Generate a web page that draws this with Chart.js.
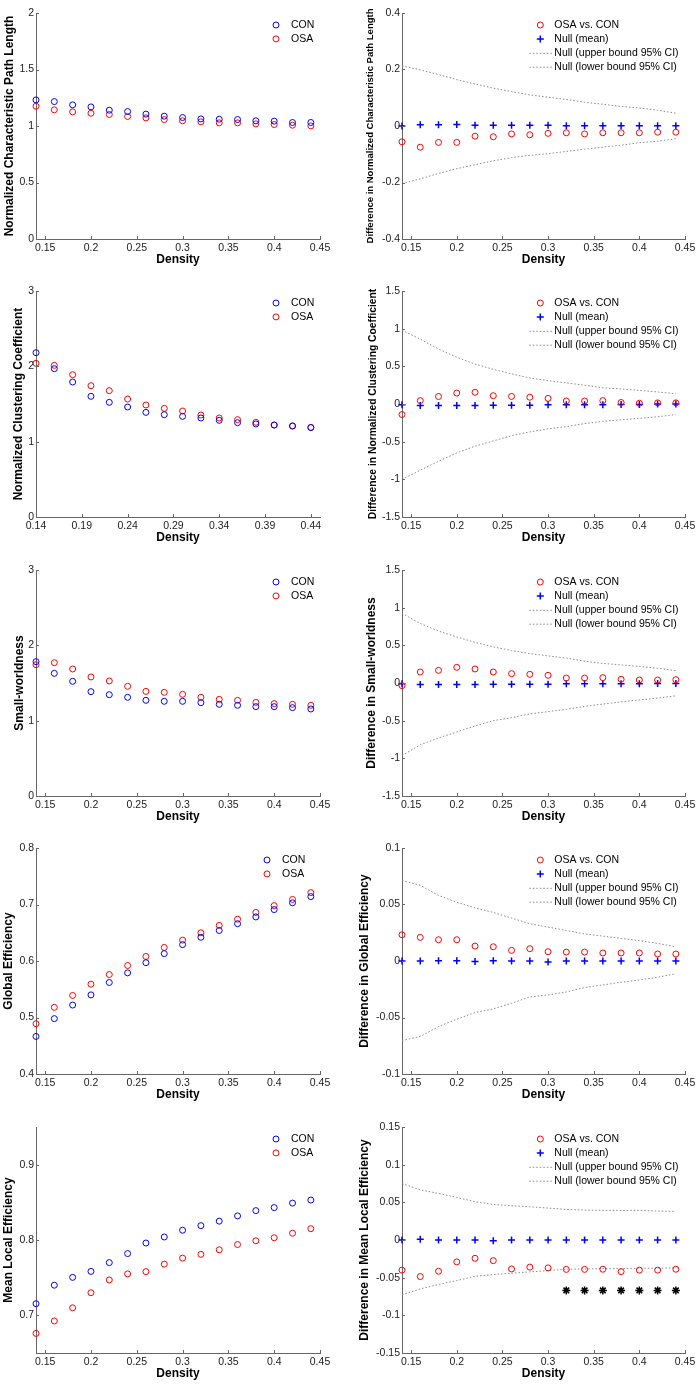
<!DOCTYPE html>
<html>
<head>
<meta charset="utf-8">
<script src="https://cdn.jsdelivr.net/npm/chart.js@4.4.0/dist/chart.umd.min.js"></script>
<style>
  html, body { margin: 0; padding: 0; background: #fff; }
  #wrap { position: relative; width: 700px; height: 1386px; overflow: hidden; }
  canvas { position: absolute; }
</style>
</head>
<body>
<div id="wrap"></div>
<script>
// ---- data ----
const density = [0.14, 0.16, 0.18, 0.20, 0.22, 0.24, 0.26, 0.28, 0.30, 0.32, 0.34, 0.36, 0.38, 0.40, 0.42, 0.44];
const xTicks = [0.15, 0.2, 0.25, 0.3, 0.35, 0.4, 0.45];
const xTicksCp = [0.14, 0.19, 0.24, 0.29, 0.34, 0.39, 0.44];

// normalized characteristic path length
const lpTicks = [0, 0.5, 1, 1.5, 2];
const lpDiffTicks = [-0.4, -0.2, 0, 0.2, 0.4];
const lpCon = [1.231, 1.216, 1.187, 1.169, 1.140, 1.128, 1.105, 1.087, 1.075, 1.063, 1.060, 1.057, 1.046, 1.043, 1.031, 1.031];
const lpOsa = [1.175, 1.143, 1.125, 1.113, 1.102, 1.084, 1.072, 1.057, 1.046, 1.037, 1.028, 1.028, 1.019, 1.013, 1.007, 1.001];
const lpDiff = [-0.056, -0.075, -0.058, -0.058, -0.036, -0.038, -0.028, -0.031, -0.026, -0.024, -0.028, -0.024, -0.024, -0.024, -0.022, -0.022];
const lpNull = [0, 0.004, 0.004, 0.005, 0.003, 0.003, 0.003, 0.003, 0.003, 0.001, 0.001, 0.001, 0.001, 0.001, 0.001, 0.001];
const lpUpper = [0.213, 0.199, 0.182, 0.164, 0.149, 0.134, 0.122, 0.110, 0.102, 0.094, 0.084, 0.077, 0.069, 0.064, 0.056, 0.045];
const lpLower = [-0.204, -0.187, -0.168, -0.151, -0.137, -0.123, -0.112, -0.104, -0.098, -0.090, -0.082, -0.075, -0.068, -0.059, -0.054, -0.045];

// normalized clustering coefficient
const cpTicks = [0, 1, 2, 3];
const cpDiffTicks = [-1.5, -1, -0.5, 0, 0.5, 1, 1.5];
const cpCon = [2.181, 1.969, 1.792, 1.602, 1.522, 1.460, 1.389, 1.358, 1.336, 1.314, 1.283, 1.252, 1.235, 1.221, 1.208, 1.186];
const cpOsa = [2.040, 2.013, 1.889, 1.743, 1.677, 1.566, 1.487, 1.442, 1.407, 1.354, 1.314, 1.292, 1.257, 1.221, 1.208, 1.190];
const cpDiff = [-0.14, 0.045, 0.10, 0.145, 0.155, 0.11, 0.10, 0.09, 0.075, 0.04, 0.04, 0.045, 0.02, 0.01, 0.015, 0.015];
const cpNull = [-0.01, -0.02, -0.02, -0.02, -0.02, -0.015, -0.015, -0.015, -0.01, -0.01, -0.01, -0.01, -0.005, -0.005, 0, 0];
const cpUpper = [0.98, 0.86, 0.73, 0.62, 0.53, 0.46, 0.40, 0.345, 0.31, 0.28, 0.25, 0.215, 0.20, 0.18, 0.16, 0.135];
const cpLower = [-1.0, -0.88, -0.76, -0.65, -0.56, -0.49, -0.42, -0.37, -0.33, -0.30, -0.26, -0.23, -0.21, -0.19, -0.17, -0.14];

// small-worldness
const swTicks = [0, 1, 2, 3];
const swDiffTicks = [-1.5, -1, -0.5, 0, 0.5, 1, 1.5];
const swCon = [1.783, 1.628, 1.522, 1.385, 1.345, 1.310, 1.270, 1.257, 1.257, 1.239, 1.217, 1.204, 1.186, 1.186, 1.173, 1.155];
const swOsa = [1.743, 1.770, 1.686, 1.580, 1.527, 1.456, 1.389, 1.376, 1.350, 1.310, 1.283, 1.270, 1.243, 1.226, 1.217, 1.204];
const swDiff = [-0.035, 0.146, 0.168, 0.208, 0.186, 0.146, 0.124, 0.115, 0.102, 0.066, 0.066, 0.071, 0.049, 0.04, 0.04, 0.044];
const swNull = [-0.01, -0.02, -0.02, -0.02, -0.02, -0.015, -0.015, -0.015, -0.015, -0.01, -0.01, -0.01, -0.01, -0.01, -0.005, -0.005];
const swUpper = [0.925, 0.79, 0.69, 0.61, 0.54, 0.48, 0.43, 0.39, 0.36, 0.33, 0.29, 0.26, 0.24, 0.22, 0.195, 0.165];
const swLower = [-0.965, -0.82, -0.73, -0.65, -0.57, -0.50, -0.46, -0.41, -0.38, -0.35, -0.31, -0.28, -0.25, -0.225, -0.20, -0.17];

// global efficiency
const geTicks = [0.4, 0.5, 0.6, 0.7, 0.8];
const geDiffTicks = [-0.1, -0.05, 0, 0.05, 0.1];
const geCon = [0.4665, 0.498, 0.522, 0.540, 0.562, 0.579, 0.597, 0.613, 0.629, 0.642, 0.654, 0.666, 0.678, 0.691, 0.703, 0.714];
const geOsa = [0.489, 0.518, 0.539, 0.559, 0.576, 0.592, 0.608, 0.624, 0.637, 0.650, 0.663, 0.674, 0.686, 0.698, 0.709, 0.721];
const geDiff = [0.0232, 0.0209, 0.0188, 0.0188, 0.0132, 0.0126, 0.0094, 0.0109, 0.0082, 0.0079, 0.0079, 0.0071, 0.0071, 0.0071, 0.0062, 0.0062];
const geNull = [0, 0, 0.0003, 0.0003, -0.0005, 0.0003, 0, 0, -0.0008, 0, 0, 0, 0, 0, 0, 0];
const geUpper = [0.0712, 0.067, 0.058, 0.052, 0.047, 0.043, 0.038, 0.033, 0.030, 0.027, 0.024, 0.022, 0.020, 0.018, 0.0156, 0.0126];
const geLower = [-0.0703, -0.0668, -0.058, -0.0515, -0.0456, -0.0424, -0.0374, -0.0318, -0.030, -0.0274, -0.0235, -0.0212, -0.0188, -0.0168, -0.0144, -0.0112];

// mean local efficiency
const leTicks = [0.7, 0.8, 0.9];
const leDiffTicks = [-0.15, -0.1, -0.05, 0, 0.05, 0.1, 0.15];
const leCon = [0.7154, 0.740, 0.7504, 0.7583, 0.770, 0.782, 0.796, 0.804, 0.813, 0.819, 0.825, 0.832, 0.839, 0.843, 0.849, 0.853];
const leOsa = [0.676, 0.6925, 0.710, 0.730, 0.747, 0.755, 0.758, 0.768, 0.776, 0.781, 0.787, 0.794, 0.799, 0.803, 0.809, 0.815];
const leDiff = [-0.040, -0.0485, -0.0415, -0.029, -0.0243, -0.0274, -0.0384, -0.036, -0.037, -0.039, -0.039, -0.0388, -0.042, -0.040, -0.040, -0.0388];
const leNull = [0, 0.001, 0, 0, 0, -0.001, 0, 0, 0, 0, 0, 0, 0, 0, 0, 0];
const leUpper = [0.075, 0.0666, 0.0618, 0.0565, 0.0508, 0.0472, 0.0455, 0.0441, 0.0424, 0.0406, 0.0397, 0.0393, 0.0393, 0.0393, 0.0384, 0.038];
const leLower = [-0.0728, -0.0649, -0.0591, -0.0538, -0.0481, -0.0459, -0.0441, -0.0424, -0.0406, -0.0388, -0.0384, -0.038, -0.038, -0.0375, -0.0375, -0.037];
const sigDensity = [0.32, 0.34, 0.36, 0.38, 0.40, 0.42, 0.44];
const sigMark = [-0.067, -0.067, -0.067, -0.067, -0.067, -0.067, -0.067];

// ---- look ----
const FONT = '"Liberation Sans", Arial, sans-serif';
const BLUE = '#0000ff', RED = '#ff0000', CI = '#8a8a8a', AXIS = '#666';
Chart.defaults.font.family = FONT;

const rowTop = [12.5, 291, 569.5, 848, 1126.5];

const panels = [
  { row: 0, side: 'L', title: 'Normalized Characteristic Path Length', min: 0, max: 2, yTicks: lpTicks, groups: [lpCon, lpOsa], tcx: 10 },
  { row: 0, side: 'R', title: 'Difference in Normalized Characteristic Path Length', min: -0.4, max: 0.4, yTicks: lpDiffTicks, groups: [lpDiff, lpNull, lpUpper, lpLower], tcx: 20, tsize: 9.5 },
  { row: 1, side: 'L', title: 'Normalized Clustering Coefficient', min: 0, max: 3, yTicks: cpTicks, groups: [cpCon, cpOsa], tcx: 19, xt: xTicksCp },
  { row: 1, side: 'R', title: 'Difference in Normalized Clustering Coefficient', min: -1.5, max: 1.5, yTicks: cpDiffTicks, groups: [cpDiff, cpNull, cpUpper, cpLower], tcx: 23, tsize: 10.3 },
  { row: 2, side: 'L', title: 'Small-worldness', min: 0, max: 3, yTicks: swTicks, groups: [swCon, swOsa], tcx: 20 },
  { row: 2, side: 'R', title: 'Difference in Small-worldness', min: -1.5, max: 1.5, yTicks: swDiffTicks, groups: [swDiff, swNull, swUpper, swLower], tcx: 22 },
  { row: 3, side: 'L', title: 'Global Efficiency', min: 0.4, max: 0.8, yTicks: geTicks, groups: [geCon, geOsa], tcx: 9, legendX: 53 },
  { row: 3, side: 'R', title: 'Difference in Global Efficiency', min: -0.1, max: 0.1, yTicks: geDiffTicks, groups: [geDiff, geNull, geUpper, geLower], tcx: 15 },
  { row: 4, side: 'L', title: 'Mean Local Efficiency', min: 0.65, max: 0.95, yTicks: leTicks, groups: [leCon, leOsa], tcx: 9 },
  { row: 4, side: 'R', title: 'Difference in Mean Local Efficiency', min: -0.15, max: 0.15, yTicks: leDiffTicks, groups: [leDiff, leNull, leUpper, leLower], tcx: 15, stars: true }
];

const pts = (xs, ys) => xs.map((x, i) => ({ x: x, y: ys[i] }));

// MATLAB-style inward tick marks
const inwardTicks = {
  id: 'inwardTicks',
  afterDraw(chart) {
    const { ctx, chartArea: a, scales: { x, y } } = chart;
    ctx.save();
    ctx.strokeStyle = AXIS;
    ctx.lineWidth = 1;
    ctx.beginPath();
    x.ticks.forEach(t => {
      const px = Math.round(x.getPixelForValue(t.value)) + 0.5;
      ctx.moveTo(px, a.bottom); ctx.lineTo(px, a.bottom - 3);
    });
    y.ticks.forEach(t => {
      const py = Math.round(y.getPixelForValue(t.value)) + 0.5;
      ctx.moveTo(a.left, py); ctx.lineTo(a.left + 3, py);
    });
    ctx.stroke();
    ctx.restore();
  }
};

// legend inside the axes, top right
const boxLegend = {
  id: 'boxLegend',
  afterDraw(chart, args, opts) {
    const { ctx, chartArea: a } = chart;
    ctx.save();
    ctx.font = '10.5px ' + FONT;
    ctx.textBaseline = 'middle';
    let row = 0;
    chart.data.datasets.forEach(ds => {
      if (!ds.label) return;
      const cy = a.top + 12 + row * 13.9;
      const mx = a.right - opts.marker;
      ctx.strokeStyle = ds.borderColor;
      if (ds.showLine) {
        ctx.lineWidth = ds.borderWidth;
        ctx.setLineDash(ds.borderDash);
        ctx.beginPath(); ctx.moveTo(mx - 11, cy + 0.5); ctx.lineTo(mx + 12, cy + 0.5); ctx.stroke();
        ctx.setLineDash([]);
      } else if (ds.pointStyle === 'cross') {
        ctx.lineWidth = ds.pointBorderWidth;
        const r = ds.pointRadius;
        ctx.beginPath(); ctx.moveTo(mx - r, cy); ctx.lineTo(mx + r, cy); ctx.moveTo(mx, cy - r); ctx.lineTo(mx, cy + r); ctx.stroke();
      } else {
        ctx.lineWidth = ds.pointBorderWidth;
        ctx.beginPath(); ctx.arc(mx, cy, ds.pointRadius, 0, Math.PI * 2); ctx.stroke();
      }
      ctx.fillStyle = '#000';
      ctx.fillText(ds.label, a.right - opts.text, cy);
      row++;
    });
    ctx.restore();
  }
};

const wrap = document.getElementById('wrap');

panels.forEach(p => {
  const left = p.side === 'L';
  const cv = document.createElement('canvas');
  const cw = left ? 340 : 350, ch = 270;
  cv.width = cw; cv.height = ch;
  cv.style.left = (left ? 0 : 350) + 'px';
  cv.style.top = (rowTop[p.row] - 10) + 'px';
  cv.style.width = cw + 'px'; cv.style.height = ch + 'px';
  wrap.appendChild(cv);

  const circle = (label, ys, color) => ({
    label: label, data: pts(density, ys), pointStyle: 'circle', pointRadius: 3,
    pointBorderWidth: 1, borderColor: color, backgroundColor: 'rgba(0,0,0,0)', showLine: false, clip: false
  });
  const ciLine = (label, ys) => ({
    label: label, data: pts(density, ys), showLine: true, pointRadius: 0, borderColor: CI,
    borderWidth: 1, borderDash: [1.5, 2], fill: false, tension: 0, clip: false
  });

  let datasets;
  if (left) {
    datasets = [circle('CON', p.groups[0], BLUE), circle('OSA', p.groups[1], RED)];
  } else {
    datasets = [
      circle('OSA vs. CON', p.groups[0], RED),
      { label: 'Null (mean)', data: pts(density, p.groups[1]), pointStyle: 'cross', pointRadius: 3.5,
        pointBorderWidth: 1.5, borderColor: BLUE, showLine: false, clip: false },
      ciLine('Null (upper bound 95% CI)', p.groups[2]),
      ciLine('Null (lower bound 95% CI)', p.groups[3])
    ];
    if (p.stars) {
      datasets.push({ label: '', data: pts(sigDensity, sigMark), pointStyle: 'star', pointRadius: 4,
        pointBorderWidth: 1.5, borderColor: '#000', showLine: false, clip: false });
    }
  }

  const tsize = p.tsize || 12;
  const xt = p.xt || xTicks;

  new Chart(cv, {
    type: 'scatter',
    data: { datasets: datasets },
    plugins: [inwardTicks, boxLegend],
    options: {
      responsive: false,
      animation: false,
      events: [],
      layout: { padding: { top: 10, right: left ? 20 : 15, bottom: 0, left: 0 } },
      plugins: {
        legend: { display: false },
        tooltip: { enabled: false },
        boxLegend: left ? { marker: p.legendX || 44, text: (p.legendX || 44) - 15 } : { marker: 144.7, text: 130.7 }
      },
      scales: {
        x: {
          type: 'linear', min: 0.14, max: 0.45,
          afterBuildTicks: s => { s.ticks = xt.map(v => ({ value: v })); },
          afterFit: s => { s.height = 34; },
          ticks: { callback: v => String(v), font: { size: 10.5 }, color: '#222', padding: 3, maxRotation: 0, autoSkip: false },
          grid: { display: false, drawTicks: false },
          border: { display: true, color: AXIS, width: 1 },
          title: { display: true, text: 'Density', color: '#000', font: { size: 12, weight: 'bold' }, padding: { top: 0, bottom: 5.8 } }
        },
        y: {
          type: 'linear', min: p.min, max: p.max,
          afterBuildTicks: s => { s.ticks = p.yTicks.map(v => ({ value: v })); },
          afterFit: s => { s.width = left ? 36 : 52; },
          ticks: { callback: v => String(v), font: { size: 10.5 }, color: '#222', padding: 2, autoSkip: false },
          grid: { display: false, drawTicks: false },
          border: { display: true, color: AXIS, width: 1 },
          title: { display: true, text: p.title, color: '#000', font: { size: tsize, weight: 'bold' },
                   padding: { top: p.tcx - tsize * 0.6, bottom: 0 } }
        }
      }
    }
  });
});
</script>
</body>
</html>
